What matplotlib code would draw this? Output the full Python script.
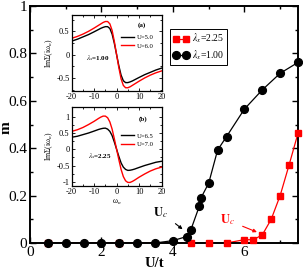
import matplotlib
matplotlib.use("Agg")
import matplotlib.pyplot as plt

plt.rcParams['font.family'] = ['Liberation Serif', 'DejaVu Serif']
plt.rcParams['mathtext.fontset'] = 'stix'

# main data
U_black = [0.5, 1.0, 1.5, 2.0, 2.5, 3.0, 3.5, 4.0, 4.38, 4.5, 4.74, 4.78, 5.0, 5.25, 5.5, 6.0, 6.5, 7.0, 7.5]
m_black = [0, 0, 0, 0, 0, 0, 0, 0.01, 0.027, 0.055, 0.156, 0.189, 0.252, 0.392, 0.449, 0.565, 0.646, 0.716, 0.762]
U_red = [0.5, 2.5, 4.5, 5.0, 5.5, 6.0, 6.25, 6.5, 6.75, 7.0, 7.25, 7.5]
m_red = [0, 0, 0, 0, 0, 0.014, 0.014, 0.034, 0.100, 0.200, 0.329, 0.463]
label_black = r'$\lambda_x$=1.00'
label_red = r'$\lambda_x$=2.25'

# inset data
w = [-20, -17.5, -15, -12.5, -10, -8, -7, -6, -5, -4, -3, -2, -1, 0,
     1, 2, 3, 4, 5, 6, 7, 8, 10, 12.5, 15, 17.5, 20]
a_U50 = [0.29, 0.33, 0.38, 0.43, 0.49, 0.54, 0.565, 0.585, 0.60, 0.60, 0.56, 0.44, 0.24, 0,
         -0.24, -0.44, -0.56, -0.60, -0.60, -0.585, -0.565, -0.54, -0.49, -0.43, -0.38, -0.33, -0.29]
a_U60 = [0.35, 0.39, 0.44, 0.50, 0.57, 0.63, 0.66, 0.69, 0.71, 0.71, 0.66, 0.52, 0.28, 0,
         -0.28, -0.52, -0.66, -0.71, -0.71, -0.69, -0.66, -0.63, -0.57, -0.50, -0.44, -0.39, -0.35]
b_U65 = [0.37, 0.40, 0.45, 0.50, 0.56, 0.61, 0.63, 0.645, 0.65, 0.62, 0.55, 0.42, 0.22, 0,
         -0.22, -0.42, -0.55, -0.62, -0.65, -0.645, -0.63, -0.61, -0.56, -0.50, -0.45, -0.40, -0.37]
b_U70 = [0.55, 0.60, 0.67, 0.76, 0.86, 0.95, 0.99, 1.02, 1.02, 0.97, 0.84, 0.62, 0.32, 0,
         -0.32, -0.62, -0.84, -0.97, -1.02, -1.02, -0.99, -0.95, -0.86, -0.76, -0.67, -0.60, -0.55]

fig = plt.figure(figsize=(3.03, 2.69), dpi=100)
ax = fig.add_axes([30/303, 1-243/269, 268/303, 237/269])

ax.plot(U_black, m_black, '-', color='black', lw=0.9, zorder=2)
ax.plot(U_red, m_red, '-', color='red', lw=0.9, zorder=2)
ax.plot(U_red, m_red, 's', color='red', ms=5, mec='red', clip_on=False, zorder=3)
ax.plot(U_black, m_black, 'o', color='black', ms=5.6, clip_on=False, zorder=4)

h_red, = ax.plot([], [], 's-', color='red', ms=5, lw=0.9, label=label_red)
h_black, = ax.plot([], [], 'o-', color='black', ms=5.6, lw=0.9, label=label_black)
leg = ax.legend(handles=[h_red, h_black], loc='upper left', bbox_to_anchor=(0.522, 0.905),
                borderaxespad=0, fontsize=7, numpoints=2, handlelength=1.6,
                handletextpad=0.3, borderpad=0.35, labelspacing=0.3, fancybox=False,
                framealpha=1, edgecolor='black')
leg.get_frame().set_linewidth(0.7)

ax.set_xlim(0, 7.5)
ax.set_ylim(0, 1)
ax.set_xticks([0, 2, 4, 6])
ax.set_xticks([1, 3, 5, 7], minor=True)
ax.set_yticks([0, 0.2, 0.4, 0.6, 0.8, 1])
ax.set_yticklabels(['0', '0.2', '0.4', '0.6', '0.8', '1'])
ax.set_yticks([0.1, 0.3, 0.5, 0.7, 0.9], minor=True)
ax.tick_params(which='both', direction='in', top=True, right=True, labelsize=11, width=1)
ax.tick_params(which='major', length=4.5, pad=2)
ax.tick_params(which='minor', length=2.5)
for s in ax.spines.values():
    s.set_linewidth(1.4)
fig.text(154/303, 1-263.5/269, 'U/t', fontsize=10.5, fontweight='bold', ha='center', va='center')
fig.text(6/303, 1-128/269, 'm', fontsize=11, fontweight='bold', ha='center', va='center',
         rotation=90)

ax.annotate(r'$\mathbf{U}_c$', xy=(4.27, 0.058), xytext=(3.66, 0.13), fontsize=9,
            ha='center', va='center', color='black',
            arrowprops=dict(arrowstyle='-|>', color='black', lw=0.8, mutation_scale=5,
                            shrinkA=4, shrinkB=0))
ax.annotate(r'$\mathbf{U}_c$', xy=(6.35, 0.046), xytext=(5.52, 0.097), fontsize=9,
            ha='center', va='center', color='red',
            arrowprops=dict(arrowstyle='-|>', color='red', lw=0.8, mutation_scale=5,
                            shrinkA=4, shrinkB=0))

def style_inset(a):
    a.set_xlim(-20, 20)
    a.set_xticks([-20, -10, 0, 10, 20])
    a.set_xticks([-15, -5, 5, 15], minor=True)
    a.tick_params(which='both', direction='in', top=True, right=True, labelsize=6, width=0.6, pad=1.5)
    a.tick_params(which='major', length=2.5)
    a.tick_params(which='minor', length=1.3)
    for s in a.spines.values():
        s.set_linewidth(0.9)

axa = fig.add_axes([71.7/303, 1-91/269, 89.8/303, 76/269])
axa.plot(w, a_U50, color='black', lw=1.0, label='U=5.0')
axa.plot(w, a_U60, color='red', lw=1.0, label='U=6.0')
axa.set_ylim(-0.78, 0.85)
axa.set_yticks([-0.5, 0, 0.5])
axa.set_yticklabels(['-0.5', '0', '0.5'])
axa.set_yticks([-0.75, -0.25, 0.25, 0.75], minor=True)
style_inset(axa)
axa.set_xticklabels(['-20', '-10', '0', '10', '20'])
axa.set_ylabel(r'ImΣ(iω$_n$)', fontsize=5.5, labelpad=1)
axa.legend(loc='upper left', bbox_to_anchor=(0.55, 0.74), frameon=False, fontsize=4.8,
           handlelength=2.0, handletextpad=0.4, labelspacing=0.4, borderaxespad=0, borderpad=0)
axa.text(0.16, 0.43, r'$\lambda_x$=1.00', transform=axa.transAxes, fontsize=5,
         fontweight='bold', ha='left', va='center')
axa.text(0.78, 0.87, '(a)', transform=axa.transAxes, fontsize=5, fontweight='bold',
         ha='center', va='center')

axb = fig.add_axes([71.7/303, 1-186/269, 89.8/303, 79/269])
axb.plot(w, b_U65, color='black', lw=1.0, label='U=6.5')
axb.plot(w, b_U70, color='red', lw=1.0, label='U=7.0')
axb.set_ylim(-1.13, 1.3)
axb.set_yticks([-1, -0.5, 0, 0.5, 1])
axb.set_yticklabels(['-1', '-0.5', '0', '0.5', '1'])
axb.set_yticks([-0.75, -0.25, 0.25, 0.75], minor=True)
style_inset(axb)
axb.set_xticklabels(['-20', '-10', '0', '10', '20'])
axb.set_ylabel(r'ImΣ(iω$_n$)', fontsize=5.5, labelpad=1)
axb.set_xlabel(r'ω$_n$', fontsize=5.5, labelpad=1)
axb.legend(loc='upper left', bbox_to_anchor=(0.55, 0.67), frameon=False, fontsize=4.8,
           handlelength=2.0, handletextpad=0.4, labelspacing=0.4, borderaxespad=0, borderpad=0)
axb.text(0.18, 0.38, r'$\lambda_x$=2.25', transform=axb.transAxes, fontsize=5,
         fontweight='bold', ha='left', va='center')
axb.text(0.8, 0.85, '(b)', transform=axb.transAxes, fontsize=5, fontweight='bold',
         ha='center', va='center')

fig.savefig('out.png', dpi=100)
